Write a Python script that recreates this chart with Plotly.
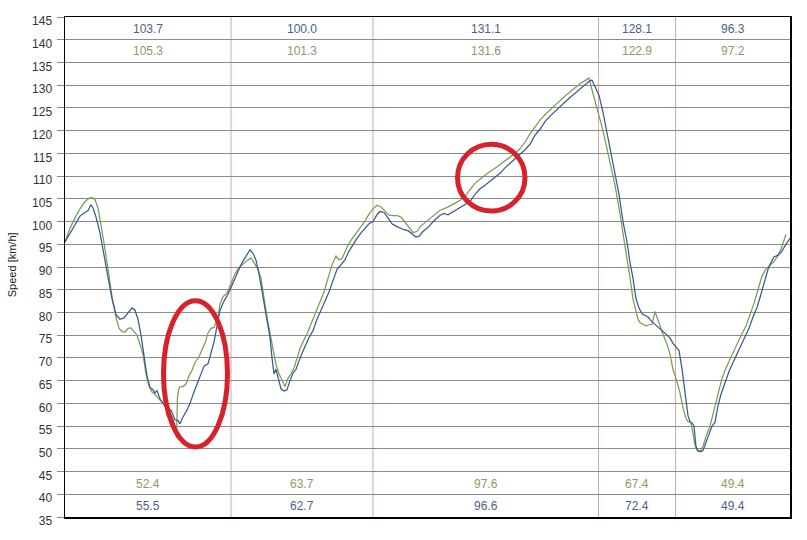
import plotly.graph_objects as go

# ---------------- data ----------------
blue_dist = [0, 5, 10, 15, 20, 23, 26, 28, 31, 35, 39, 43, 47, 51, 55, 59, 63, 67, 70, 73, 76, 79, 82, 85,
             88, 90, 92, 95, 98, 102, 106, 110, 113, 115, 118, 122, 125, 129, 132, 136, 139, 143, 146, 149,
             152, 155, 159, 163, 167, 172, 176, 180, 183, 185, 188, 191, 194, 197, 200, 203, 205, 207, 209,
             211, 213, 216, 219, 222, 225, 228, 231, 233, 236, 240, 244, 248, 252, 256, 260, 264, 268, 272,
             276, 280, 284, 288, 292, 296, 300, 304, 308, 312, 315, 319, 323, 327, 331, 335, 339, 343, 347,
             351, 354, 358, 362, 366, 370, 375, 379, 383, 387, 391, 395, 400, 405, 410, 415, 420, 425, 430,
             435, 440, 445, 450, 455, 460, 465, 470, 475, 480, 485, 490, 495, 500, 505, 510, 515, 520, 525,
             527, 530, 534, 538, 542, 546, 550, 554, 558, 562, 565, 568, 571, 574, 577, 580, 583, 586, 589,
             592, 595, 598, 602, 605, 608, 611, 614, 617, 620, 623, 625, 627, 629, 631, 633, 636, 638, 641,
             644, 647, 650, 653, 656, 660, 664, 668, 672, 676, 680, 684, 688, 692, 696, 700, 703, 706, 709,
             713, 717, 721, 725]
blue_speed = [95.5, 97.5, 99.5, 101.2, 102.0, 102.4, 103.7, 103.0, 101.0, 97.5, 92.6, 88.0, 83.0, 79.5,
              78.5, 78.8, 80.0, 81.0, 80.5, 78.5, 75.0, 71.0, 66.0, 63.5, 63.0, 62.3, 62.8, 61.0, 60.0,
              59.0, 58.5, 56.4, 56.2, 55.5, 57.0, 58.5, 60.0, 62.5, 64.3, 66.5, 68.2, 68.7, 71.0, 73.5,
              77.0, 80.5, 82.5, 84.0, 86.0, 88.4, 90.5, 92.0, 93.0, 93.8, 93.0, 91.5, 88.5, 84.5, 81.0,
              77.0, 74.5, 70.0, 66.5, 67.5, 66.0, 63.2, 62.7, 63.0, 65.0, 66.6, 67.5, 68.8, 70.5, 72.5,
              74.5, 76.0, 78.5, 80.5, 82.5, 84.5, 87.0, 89.5, 90.5, 91.6, 93.5, 95.0, 96.3, 97.5, 98.5,
              99.5, 100.0, 101.5, 102.2, 102.0, 100.8, 99.5, 99.0, 98.6, 98.2, 98.0, 97.3, 96.6, 96.8,
              97.8, 98.5, 99.5, 100.4, 101.4, 101.8, 101.5, 102.0, 102.5, 103.0, 103.6, 104.4, 106.0,
              107.2, 108.0, 108.9, 109.8, 110.6, 111.8, 112.8, 113.6, 114.6, 115.8, 117.0, 119.0, 120.3,
              122.0, 123.2, 124.3, 125.3, 126.3, 127.3, 128.2, 129.2, 130.0, 131.0, 131.1, 129.8, 127.8,
              124.0, 119.5, 114.5, 110.5, 106.0, 100.0, 95.5, 91.0, 87.5, 83.0, 81.0, 79.7, 79.3, 79.0,
              78.2, 77.6, 77.0, 76.4, 76.0, 75.2, 74.4, 73.2, 72.4, 71.6, 67.6, 62.3, 57.3, 56.0, 55.7,
              55.0, 50.5, 49.5, 49.4, 49.6, 51.5, 53.5, 55.0, 55.8, 59.5, 62.0, 64.5, 67.0, 69.0, 70.9,
              73.0, 74.8, 76.5, 79.0, 81.1, 84.0, 87.5, 89.5, 91.0, 92.2, 92.6, 93.5, 95.0, 96.3]

green_dist = [0, 5, 10, 15, 20, 24, 27, 30, 33, 36, 39, 43, 47, 51, 54, 57, 60, 63, 66, 69, 72, 75, 78,
              81, 84, 87, 90, 93, 97, 101, 105, 108, 110, 111.5, 112.5, 113.5, 115, 118, 121, 124, 127,
              130, 134, 137, 140, 143, 146, 149, 153, 155, 158, 162, 166, 170, 174, 178, 182, 186, 190,
              193, 196, 199, 202, 205, 208, 211, 214, 217, 220, 223, 226, 229, 232, 235, 239, 243, 247,
              251, 255, 259, 263, 267, 271, 274, 277, 280, 283, 287, 291, 295, 299, 303, 308, 312, 316,
              320, 324, 328, 332, 336, 340, 344, 348, 352, 355, 359, 363, 367, 371, 375, 380, 385, 390,
              395, 400, 405, 410, 415, 420, 425, 430, 435, 440, 445, 450, 455, 460, 465, 470, 475, 480,
              485, 490, 495, 500, 505, 510, 515, 520, 524, 527, 530, 534, 538, 542, 546, 550, 554, 558,
              562, 565, 568, 571, 573, 575, 578, 581, 584, 587, 590, 593, 595, 598, 602, 605, 608, 611,
              615, 618, 621, 623, 626, 628, 630, 632, 635, 638, 641, 645, 648, 651, 654, 657, 661, 665,
              669, 673, 677, 681, 685, 689, 693, 697, 701, 705, 709, 713, 717, 721, 725]
green_speed = [95.5, 98.5, 100.8, 102.8, 104.4, 105.1, 105.3, 104.8, 103.0, 99.5, 95.3, 89.5, 83.5, 79.0,
               76.5, 75.8, 75.7, 76.5, 76.6, 75.8, 75.0, 73.0, 70.8, 66.5, 63.8, 62.5, 62.0, 61.2, 60.3,
               59.0, 57.8, 56.5, 55.0, 52.4, 61.5, 63.0, 63.7, 63.7, 64.3, 66.0, 67.3, 69.0, 70.2, 71.8,
               73.2, 75.5, 76.5, 76.7, 79.0, 81.8, 83.5, 84.2, 86.5, 88.5, 89.9, 90.7, 91.4, 92.0, 90.5,
               89.5, 87.5, 83.0, 79.0, 75.5, 72.0, 68.5, 66.5, 65.0, 63.7, 65.5, 66.5, 67.8, 70.0, 72.0,
               74.0, 75.8, 78.0, 80.2, 82.5, 84.5, 87.5, 90.5, 92.4, 91.6, 91.8, 93.3, 94.8, 96.2, 97.3,
               98.6, 99.8, 101.3, 102.8, 103.6, 103.2, 102.3, 101.4, 101.3, 101.3, 101.0, 99.8, 98.6,
               97.6, 97.8, 98.8, 99.6, 100.3, 101.0, 101.8, 102.5, 102.9, 103.4, 104.0, 104.7, 105.5,
               107.0, 108.4, 109.3, 110.2, 111.0, 111.7, 112.5, 113.5, 114.3, 115.0, 116.0, 117.5,
               119.3, 120.8, 122.3, 123.5, 124.6, 125.5, 126.6, 127.6, 128.5, 129.5, 130.3, 131.0,
               131.6, 129.0, 126.5, 123.5, 120.0, 116.0, 112.0, 108.0, 103.0, 97.5, 92.5, 87.6, 83.0,
               80.5, 78.5, 77.8, 77.4, 77.0, 77.3, 77.4, 80.2, 78.2, 76.8, 75.2, 73.0, 70.9, 67.4, 65.5,
               62.3, 59.0, 56.7, 56.0, 55.8, 53.5, 50.8, 49.8, 49.4, 50.5, 52.7, 55.0, 57.5, 60.5, 63.0,
               65.5, 67.8, 69.8, 71.5, 73.5, 75.3, 77.0, 79.5, 82.0, 85.0, 88.0, 89.6, 90.3, 91.2, 92.5,
               94.5, 97.2]

section_bounds = [166, 308, 533.5, 610.5]
section_centers = [83, 237, 421, 572, 668]
blue_max = ["103.7", "100.0", "131.1", "128.1", "96.3"]
green_max = ["105.3", "101.3", "131.6", "122.9", "97.2"]
green_min = ["52.4", "63.7", "97.6", "67.4", "49.4"]
blue_min = ["55.5", "62.7", "96.6", "72.4", "49.4"]

# highlight ellipses: (x0, x1, y0, y1) in data units
highlights = [(98.5, 162.5, 50.4, 82.6), (392.5, 460, 102.3, 117.0)]

BLUE = "#3b5a8d"
GREEN = "#7f9a55"
BLUE_TXT = "#4a5f8c"
GREEN_TXT = "#8c9a66"
FONT = "Liberation Sans, Arial, sans-serif"

fig = go.Figure()
fig.add_trace(go.Scatter(x=green_dist, y=green_speed, mode="lines",
                         line=dict(color=GREEN, width=1.25), showlegend=False, hoverinfo="skip"))
fig.add_trace(go.Scatter(x=blue_dist, y=blue_speed, mode="lines",
                         line=dict(color=BLUE, width=1.25), showlegend=False, hoverinfo="skip"))

shapes = []
for b in section_bounds:
    shapes.append(dict(type="line", xref="x", yref="paper", x0=b, x1=b, y0=0, y1=1,
                       line=dict(color="#d9a5aa", width=1), layer="below"))
for (x0, x1, y0, y1) in highlights:
    shapes.append(dict(type="circle", xref="x", yref="y", x0=x0, x1=x1, y0=y0, y1=y1,
                       line=dict(color="#d8222b", width=5), layer="above"))

annotations = []
for cx, bm, gm, gn, bn in zip(section_centers, blue_max, green_max, green_min, blue_min):
    for val, yy, col in [(bm, 142.4, BLUE_TXT), (gm, 137.5, GREEN_TXT),
                         (gn, 42.3, GREEN_TXT), (bn, 37.4, BLUE_TXT)]:
        annotations.append(dict(x=cx, y=yy, xref="x", yref="y", text=val, showarrow=False,
                                font=dict(family=FONT, size=12, color=col),
                                xanchor="center", yanchor="middle"))
annotations.append(dict(x=-0.0735, y=0.505, xref="paper", yref="paper", text="Speed [km/h]",
                        showarrow=False, textangle=-90, borderpad=0,
                        font=dict(family=FONT, size=11, color="#222222"),
                        xanchor="center", yanchor="middle"))

fig.update_layout(
    width=807, height=540,
    margin=dict(l=65, r=17, t=17, b=19),
    paper_bgcolor="white", plot_bgcolor="white",
    shapes=shapes, annotations=annotations,
    font=dict(family=FONT, size=12, color="#333333"),
)
fig.update_xaxes(range=[0, 725], showticklabels=False, showgrid=False, zeroline=False,
                 showline=True, linecolor="black", linewidth=1.5, mirror=True, ticks="")
fig.update_yaxes(range=[35, 145], dtick=5, tick0=35, showgrid=True, gridcolor="#8c8c8c",
                 gridwidth=1, zeroline=False, showline=True, linecolor="black", linewidth=1.5,
                 mirror=True, ticks="outside", ticklen=7, tickcolor="#8c8c8c",
                 ticklabelshift=4, ticklabelstandoff=2,
                 tickfont=dict(family=FONT, size=12, color="#333333"))

# remove the default page margin so the figure fills the 807x540 window exactly
fig.write_html("out.html",
               config={"displayModeBar": False, "staticPlot": True},
               post_script="document.body.style.margin='0';document.body.style.overflow='hidden';")
